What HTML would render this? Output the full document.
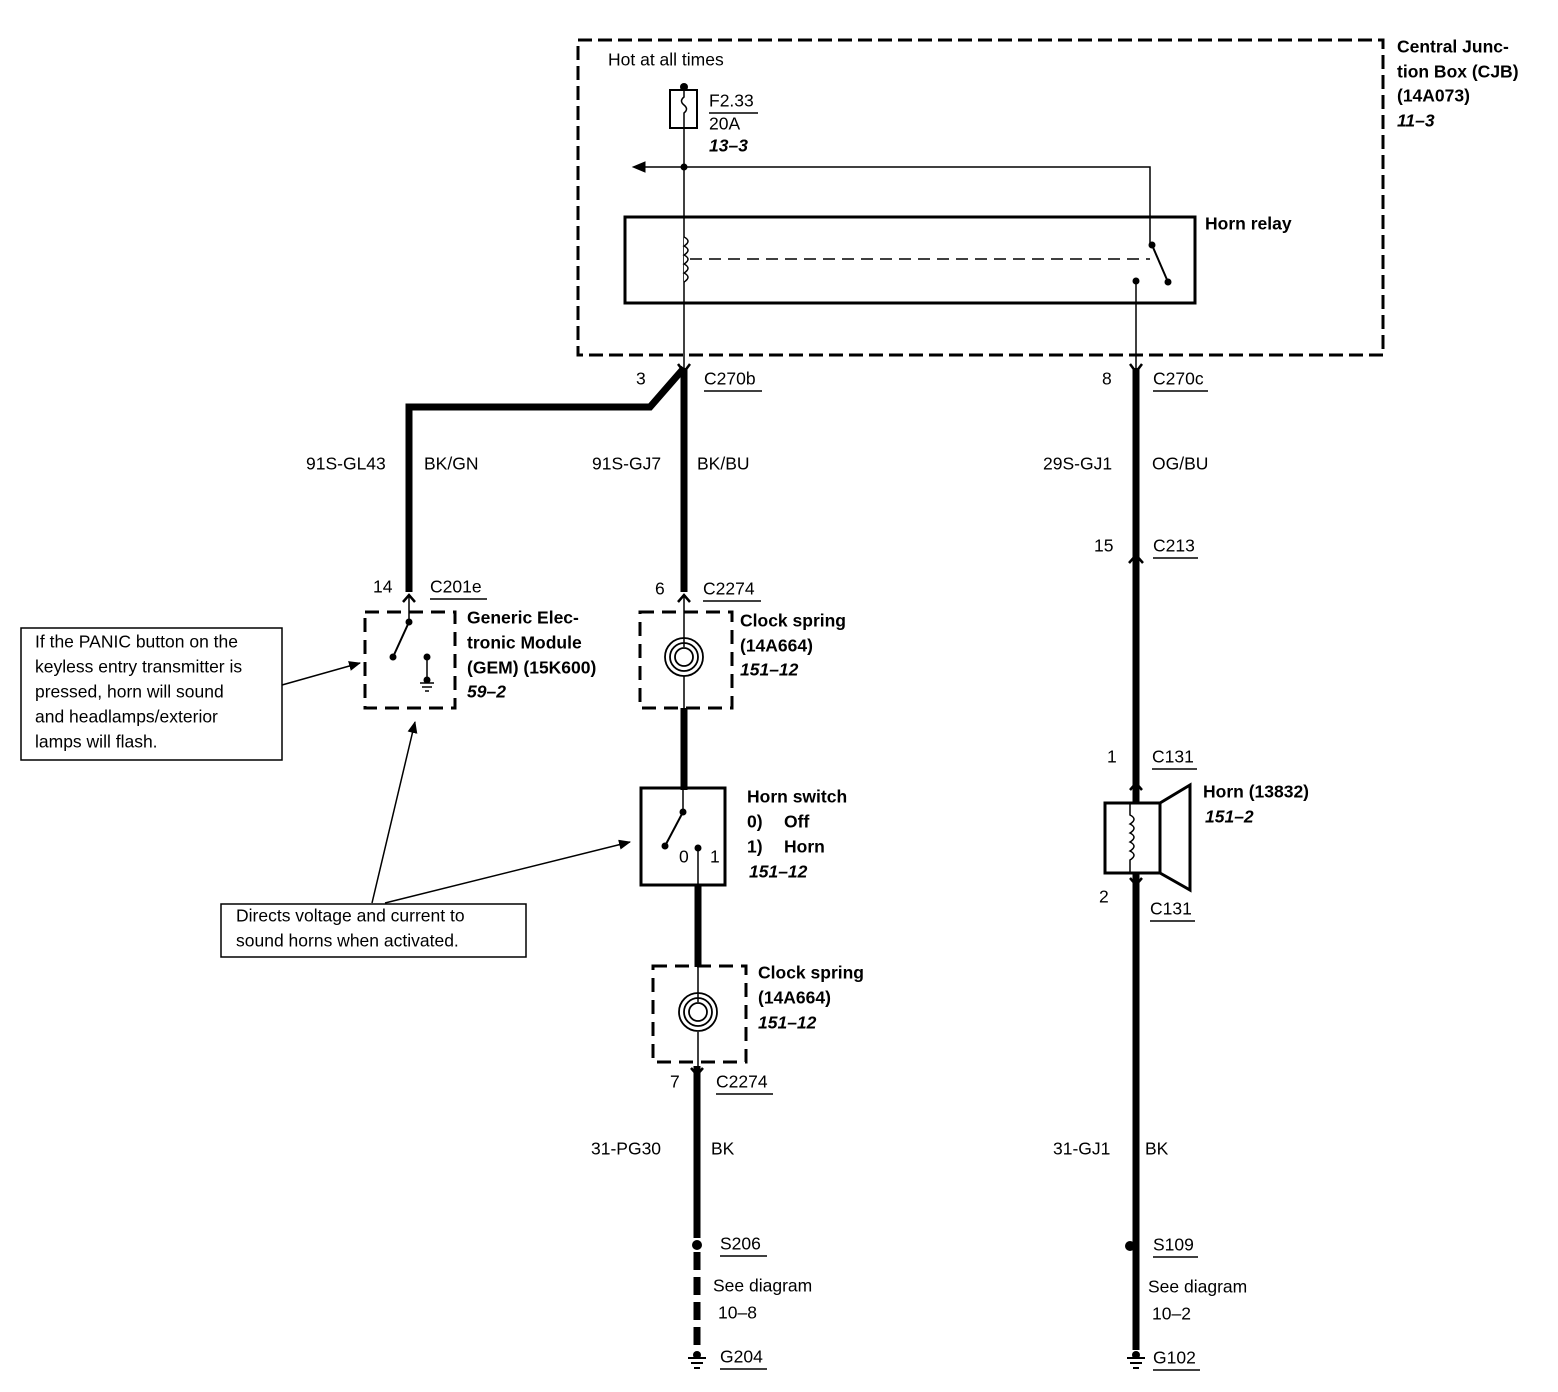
<!DOCTYPE html>
<html><head><meta charset="utf-8"><style>
html,body{margin:0;padding:0;background:#fff}
svg{display:block}
text{font-family:"Liberation Sans",Arial,sans-serif;font-size:17.5px;fill:#000;dominant-baseline:middle}
.b{font-weight:bold}
.i{font-weight:bold;font-style:italic}
</style></head><body>
<svg width="1558" height="1392" viewBox="0 0 1558 1392" xmlns="http://www.w3.org/2000/svg">
<defs>
<marker id="ah" markerWidth="12" markerHeight="10" refX="11" refY="5" orient="auto" markerUnits="userSpaceOnUse"><path d="M0,0 L12,5 L0,10 Z" fill="#000"/></marker>
</defs>
<g fill="none" stroke="#000">
<rect x="578" y="40" width="805" height="315" stroke-width="3" stroke-dasharray="14,6"/>
<rect x="670" y="90" width="27" height="38" stroke-width="2"/>
<path d="M684,88 V97 q-5,4 0,8 q5,4 0,8 V128" stroke-width="1.5"/>
<line x1="684" y1="128" x2="684" y2="370" stroke-width="1.5"/>
<line x1="709" y1="113" x2="758" y2="113" stroke-width="1.5"/>
<path d="M645,167 H1150 V245" stroke-width="1.5"/>
<path d="M633,167 l12,-5 v10 z" fill="#000"/>
<rect x="625" y="217" width="570" height="86" stroke-width="3"/>
<path d="M684,237 q8,4 0,9 q8,4 0,9 q8,4 0,9 q8,4 0,9 q8,4 0,9" stroke-width="1.5" fill="#fff"/>
<line x1="690" y1="259" x2="1150" y2="259" stroke-width="1.5" stroke-dasharray="12,7"/>
<line x1="1152" y1="245" x2="1168" y2="282" stroke-width="2"/>
<line x1="1136" y1="281" x2="1136" y2="370" stroke-width="1.5"/>
<path d="M684,368 L650,407 H409 V592" stroke-width="7"/>
<line x1="684" y1="368" x2="684" y2="592" stroke-width="7"/>
<line x1="1136" y1="368" x2="1136" y2="1350" stroke-width="7"/>
<line x1="684" y1="708" x2="684" y2="790" stroke-width="7"/>
<line x1="698" y1="885" x2="698" y2="967" stroke-width="7"/>
<line x1="697" y1="1066" x2="697" y2="1238" stroke-width="7"/>
<line x1="697" y1="1252" x2="697" y2="1352" stroke-width="7" stroke-dasharray="18,7"/>
<path d="M678,364 L684,372 L690,364" stroke-width="2.5"/>
<path d="M1130,364 L1136,372 L1142,364" stroke-width="2.5"/>
<path d="M1129,563 L1136,555 L1143,563" stroke-width="2.5"/>
<path d="M403,602 L409,595 L415,602" stroke-width="2.5"/>
<path d="M678,602 L684,595 L690,602" stroke-width="2.5"/>
<path d="M691,1068 L697,1075 L703,1068" stroke-width="2.5"/>
<path d="M1130,790 L1136,783 L1142,790" stroke-width="2.5"/>
<path d="M1130,878 L1136,885 L1142,878" stroke-width="2.5"/>
<rect x="365" y="612" width="90" height="96" stroke-width="3" stroke-dasharray="14,8"/>
<line x1="409" y1="595" x2="409" y2="622" stroke-width="1.5"/>
<line x1="409" y1="622" x2="393" y2="657" stroke-width="2"/>
<line x1="427" y1="657" x2="427" y2="682" stroke-width="1.5"/>
<path d="M420,683 h14 M422,687 h10 M425,691 h4" stroke-width="1.5"/>
<rect x="640" y="612" width="92" height="96" stroke-width="3" stroke-dasharray="14,8"/>
<line x1="684" y1="595" x2="684" y2="647" stroke-width="1.5"/>
<line x1="684" y1="676" x2="684" y2="708" stroke-width="1.5"/>
<circle cx="684" cy="657" r="19" stroke-width="1.8"/>
<circle cx="684" cy="657" r="14" stroke-width="1.8"/>
<circle cx="684" cy="657" r="9" stroke-width="1.8"/>
<rect x="641" y="788" width="84" height="97" stroke-width="3"/>
<line x1="683" y1="790" x2="683" y2="812" stroke-width="1.5"/>
<line x1="683" y1="812" x2="665" y2="846" stroke-width="2"/>
<line x1="698" y1="848" x2="698" y2="885" stroke-width="1.5"/>
<rect x="653" y="966" width="93" height="96" stroke-width="3" stroke-dasharray="14,8"/>
<line x1="698" y1="966" x2="698" y2="1002" stroke-width="1.5"/>
<line x1="698" y1="1032" x2="698" y2="1066" stroke-width="1.5"/>
<circle cx="698" cy="1012" r="19" stroke-width="1.8"/>
<circle cx="698" cy="1012" r="14" stroke-width="1.8"/>
<circle cx="698" cy="1012" r="9" stroke-width="1.8"/>
<rect x="1105" y="803" width="55" height="70" stroke-width="3" fill="#fff"/>
<path d="M1160,803 L1190,785 V890 L1160,873" stroke-width="3"/>
<path d="M1130,803 V815 q8,4 0,9 q8,4 0,9 q8,4 0,9 q8,4 0,9 q8,4 0,9 V873" stroke-width="1.5"/>
<path d="M688,1358 h18 M691,1363 h12 M694,1368 h6" stroke-width="2"/>
<path d="M1127,1358 h18 M1130,1363 h12 M1133,1368 h6" stroke-width="2"/>
<rect x="21" y="628" width="261" height="132" stroke-width="1.5"/>
<rect x="221" y="904" width="305" height="53" stroke-width="1.5"/>
<line x1="282" y1="685" x2="360" y2="663" stroke-width="1.5" marker-end="url(#ah)"/>
<line x1="372" y1="903" x2="415" y2="722" stroke-width="1.5" marker-end="url(#ah)"/>
<line x1="385" y1="903" x2="630" y2="842" stroke-width="1.5" marker-end="url(#ah)"/>
<g stroke-width="1.5">
<line x1="704" y1="391" x2="762" y2="391"/>
<line x1="1153" y1="391" x2="1208" y2="391"/>
<line x1="1153" y1="558" x2="1198" y2="558"/>
<line x1="430" y1="599" x2="487" y2="599"/>
<line x1="703" y1="601" x2="761" y2="601"/>
<line x1="716" y1="1094" x2="773" y2="1094"/>
<line x1="1152" y1="769" x2="1197" y2="769"/>
<line x1="1150" y1="921" x2="1195" y2="921"/>
<line x1="720" y1="1256" x2="767" y2="1256"/>
<line x1="1153" y1="1257" x2="1198" y2="1257"/>
<line x1="720" y1="1369" x2="767" y2="1369"/>
<line x1="1153" y1="1370" x2="1200" y2="1370"/>
</g>
</g>
<g fill="#000">
<circle cx="684" cy="87" r="4"/>
<circle cx="684" cy="167" r="3.5"/>
<circle cx="1152" cy="245" r="3.5"/>
<circle cx="1168" cy="282" r="3.5"/>
<circle cx="1136" cy="281" r="3.5"/>
<circle cx="409" cy="622" r="3.5"/>
<circle cx="393" cy="657" r="3.5"/>
<circle cx="427" cy="657" r="3.5"/>
<circle cx="427" cy="680" r="3.5"/>
<circle cx="683" cy="812" r="3.5"/>
<circle cx="665" cy="846" r="3.5"/>
<circle cx="698" cy="848" r="3.5"/>
<circle cx="697" cy="1245" r="5"/>
<circle cx="1130" cy="1246" r="5"/>
<circle cx="697" cy="1355" r="4"/>
<circle cx="1136" cy="1355" r="4"/>
</g>
<text x="608" y="61">Hot at all times</text>
<text x="709" y="102">F2.33</text>
<text x="709" y="125">20A</text>
<text x="709" y="147" class="i">13–3</text>
<text x="1205" y="225" class="b">Horn relay</text>
<text x="1397" y="48" class="b">Central Junc-</text>
<text x="1397" y="73" class="b">tion Box (CJB)</text>
<text x="1397" y="97" class="b">(14A073)</text>
<text x="1397" y="122" class="i">11–3</text>
<text x="636" y="380">3</text>
<text x="704" y="380">C270b</text>
<text x="1102" y="380">8</text>
<text x="1153" y="380">C270c</text>
<text x="306" y="465">91S-GL43</text>
<text x="424" y="465">BK/GN</text>
<text x="592" y="465">91S-GJ7</text>
<text x="697" y="465">BK/BU</text>
<text x="1043" y="465">29S-GJ1</text>
<text x="1152" y="465">OG/BU</text>
<text x="1094" y="547">15</text>
<text x="1153" y="547">C213</text>
<text x="373" y="588">14</text>
<text x="430" y="588">C201e</text>
<text x="655" y="590">6</text>
<text x="703" y="590">C2274</text>
<text x="467" y="619" class="b">Generic Elec-</text>
<text x="467" y="644" class="b">tronic Module</text>
<text x="467" y="669" class="b">(GEM) (15K600)</text>
<text x="467" y="693" class="i">59–2</text>
<text x="740" y="622" class="b">Clock spring</text>
<text x="740" y="647" class="b">(14A664)</text>
<text x="740" y="671" class="i">151–12</text>
<text x="747" y="798" class="b">Horn switch</text>
<text x="747" y="823" class="b">0)</text><text x="784" y="823" class="b">Off</text>
<text x="747" y="848" class="b">1)</text><text x="784" y="848" class="b">Horn</text>
<text x="749" y="873" class="i">151–12</text>
<text x="679" y="858">0</text>
<text x="710" y="858">1</text>
<text x="758" y="974" class="b">Clock spring</text>
<text x="758" y="999" class="b">(14A664)</text>
<text x="758" y="1024" class="i">151–12</text>
<text x="670" y="1083">7</text>
<text x="716" y="1083">C2274</text>
<text x="591" y="1150">31-PG30</text>
<text x="711" y="1150">BK</text>
<text x="1053" y="1150">31-GJ1</text>
<text x="1145" y="1150">BK</text>
<text x="720" y="1245">S206</text>
<text x="713" y="1287">See diagram</text>
<text x="718" y="1314">10–8</text>
<text x="720" y="1358">G204</text>
<text x="1153" y="1246">S109</text>
<text x="1148" y="1288">See diagram</text>
<text x="1152" y="1315">10–2</text>
<text x="1153" y="1359">G102</text>
<text x="1107" y="758">1</text>
<text x="1152" y="758">C131</text>
<text x="1203" y="793" class="b">Horn (13832)</text>
<text x="1205" y="818" class="i">151–2</text>
<text x="1099" y="898">2</text>
<text x="1150" y="910">C131</text>
<text x="35" y="643">If the PANIC button on the</text>
<text x="35" y="668">keyless entry transmitter is</text>
<text x="35" y="693">pressed, horn will sound</text>
<text x="35" y="718">and headlamps/exterior</text>
<text x="35" y="743">lamps will flash.</text>
<text x="236" y="917">Directs voltage and current to</text>
<text x="236" y="942">sound horns when activated.</text>
</svg>
</body></html>
